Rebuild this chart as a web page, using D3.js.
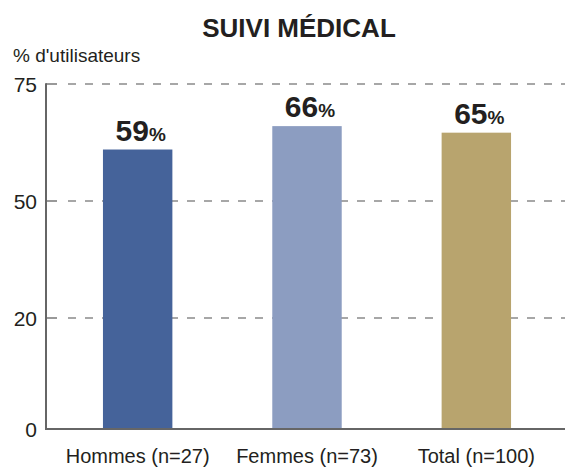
<!DOCTYPE html>
<html><head><meta charset="utf-8">
<script src="https://cdn.jsdelivr.net/npm/d3@7"></script>
<style>html,body{margin:0;padding:0;background:#fff;}svg{display:block;font-family:"Liberation Sans",Arial,sans-serif;}</style>
</head><body>
<svg id="chart" width="565" height="467"></svg>
<script>
const title = "SUIVI MÉDICAL";
const yAxisTitle = "% d'utilisateurs";
const categories = ["Hommes (n=27)", "Femmes (n=73)", "Total (n=100)"];
const labelValues = [59, 66, 65];          // printed percentages
const barValues = [61, 66, 64.6];          // bar heights as drawn on the (non-linear) axis
const barColors = ["#45639a", "#8c9dc1", "#b8a46e"];
const yTicks = [0, 20, 50, 75];

(function () {
const svg = d3.select("#chart");
const mLeft = 46, mRight = 565, mTop = 84, mBottom = 429;

// the axis places its ticks almost evenly, so it is piecewise linear
const y = d3.scaleLinear().domain(yTicks).range([mBottom, 318, 201, mTop]);
const x = d3.scaleBand().domain(categories).range([53, 561]).paddingInner(0.59).paddingOuter(0.295);

// title
svg.append("text").attr("x", 299).attr("y", 37).attr("text-anchor", "middle")
  .attr("font-size", 26).attr("font-weight", "bold").attr("fill", "#231f20").text(title);
svg.append("text").attr("x", 13).attr("y", 62).attr("font-size", 19).attr("fill", "#231f20").text(yAxisTitle);

// gridlines
const grid = svg.append("g");
yTicks.filter(t => t > 0).forEach(t => {
  grid.append("line").attr("x1", mLeft).attr("x2", mLeft + 11).attr("y1", y(t)).attr("y2", y(t))
    .attr("stroke", "#777").attr("stroke-width", 1.5);
  grid.append("line").attr("x1", mLeft + 22).attr("x2", mRight).attr("y1", y(t)).attr("y2", y(t))
    .attr("stroke", "#8a8a8a").attr("stroke-width", 1.5).attr("stroke-dasharray", "8,9");
});

// bars
svg.append("g").selectAll("rect").data(categories).join("rect")
  .attr("x", d => x(d)).attr("width", x.bandwidth())
  .attr("y", (d, i) => y(barValues[i])).attr("height", (d, i) => y(0) - y(barValues[i]))
  .attr("fill", (d, i) => barColors[i]);

// axes lines
svg.append("line").attr("x1", mLeft).attr("x2", mLeft).attr("y1", mTop - 0.75).attr("y2", mBottom)
  .attr("stroke", "#666").attr("stroke-width", 2);
svg.append("line").attr("x1", mLeft - 1).attr("x2", mRight).attr("y1", mBottom).attr("y2", mBottom)
  .attr("stroke", "#666").attr("stroke-width", 2);

// y tick labels
const yAxis = d3.axisLeft(y).tickValues(yTicks).tickSize(0).tickPadding(9).tickFormat(d3.format("d"));
const ya = svg.append("g").attr("transform", `translate(${mLeft},0)`).call(yAxis);
ya.select(".domain").remove();
ya.selectAll("text").attr("font-size", 21).attr("fill", "#231f20").attr("font-family", "Liberation Sans, Arial, sans-serif").attr("dy", "0.37em");

// x labels
const xAxis = d3.axisBottom(x).tickSize(0).tickPadding(0);
const xa = svg.append("g").attr("transform", `translate(0,${mBottom})`).call(xAxis);
xa.select(".domain").remove();
xa.selectAll("text").attr("font-size", 20).attr("fill", "#231f20").attr("font-family", "Liberation Sans, Arial, sans-serif")
  .attr("dy", null).attr("y", 34);

// value labels
const lab = svg.append("g").selectAll("text").data(categories).join("text")
  .attr("x", d => x(d) + x.bandwidth() / 2 + 3)
  .attr("y", (d, i) => y(barValues[i]) - 9)
  .attr("text-anchor", "middle").attr("font-weight", "bold").attr("fill", "#231f20");
lab.append("tspan").attr("font-size", 30).text((d, i) => labelValues[i]);
lab.append("tspan").attr("font-size", 19).text("%");
})();
</script>
</body></html>
